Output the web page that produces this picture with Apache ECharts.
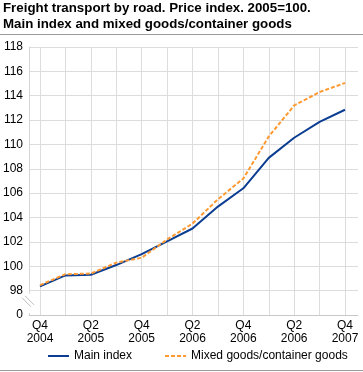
<!DOCTYPE html>
<html>
<head>
<meta charset="utf-8">
<script src="https://cdn.jsdelivr.net/npm/echarts@6/dist/echarts.min.js"></script>
<style>
html,body{margin:0;padding:0;background:#fff;}
#chart{width:363px;height:372px;}
</style>
</head>
<body>
<div id="chart"></div>
<script>
var titleText = 'Freight transport by road. Price index. 2005=100.\nMain index and mixed goods/container goods';
var categories = ['Q4\n2004','Q1\n2005','Q2\n2005','Q3\n2005','Q4\n2005','Q1\n2006','Q2\n2006','Q3\n2006','Q4\n2006','Q1\n2007','Q2\n2006','Q3\n2007','Q4\n2007'];
var mainIndex = [98.35, 99.25, 99.3, 100.1, 101.0, 102.05, 103.1, 104.9, 106.4, 108.9, 110.55, 111.85, 112.85];
var mixedGoods = [98.45, 99.35, 99.4, 100.3, 100.7, 102.2, 103.5, 105.5, 107.2, 110.65, 113.2, 114.3, 115.05];
var seriesNames = ['Main index', 'Mixed goods/container goods'];
var yMin = 96, yMax = 118, yStep = 2;

var FONT = '"Liberation Sans", Arial, sans-serif';
var chart = echarts.init(document.getElementById('chart'), null, {renderer: 'canvas'});
var option = {
  animation: false,
  textStyle: {fontFamily: FONT},
  title: {
    text: titleText,
    left: 3, top: 0, padding: 0,
    textStyle: {fontFamily: FONT, fontSize: 13.3, fontWeight: 'bold', color: '#000', lineHeight: 16.5}
  },
  grid: [
    {left: 27, right: 5, top: 47, bottom: 57, containLabel: false},
    {left: 40, right: 18, top: 47, bottom: 57, containLabel: false}
  ],
  legend: {
    left: 47, top: 350, padding: 0,
    itemWidth: 21, itemHeight: 12, itemGap: 32,
    itemStyle: {opacity: 0},
    textStyle: {fontFamily: FONT, fontSize: 12, color: '#000'},
    data: seriesNames
  },
  xAxis: [
    {
      gridIndex: 0, type: 'value', min: 0, max: 1,
      axisLine: {show: true, onZero: false, lineStyle: {color: '#c8c8c8', width: 1}},
      axisTick: {show: false}, axisLabel: {show: false}, splitLine: {show: false}
    },
    {
      gridIndex: 1, type: 'category',
      data: categories,
      boundaryGap: false,
      axisLine: {show: false},
      axisTick: {show: false},
      axisLabel: {
        interval: 1,
        fontFamily: FONT, fontSize: 12, color: '#000', lineHeight: 13, margin: 4
      },
      splitLine: {show: true, interval: 0, lineStyle: {color: '#dcdcdc', width: 1}}
    }
  ],
  yAxis: [
    {
      gridIndex: 0, type: 'value',
      min: yMin, max: yMax, interval: yStep,
      axisLine: {show: true, lineStyle: {color: '#d6d6d6', width: 1}},
      axisTick: {show: false},
      axisLabel: {
        fontFamily: FONT, fontSize: 12, color: '#000', margin: 6,
        formatter: function (v) { return v === yMin ? '0' : String(v); }
      },
      splitLine: {show: true, lineStyle: {color: '#dcdcdc', width: 1}}
    },
    {
      gridIndex: 1, type: 'value',
      min: yMin, max: yMax, interval: yStep,
      axisLine: {show: false}, axisTick: {show: false},
      axisLabel: {show: false}, splitLine: {show: false}
    }
  ],
  series: [
    {
      name: seriesNames[0], type: 'line', data: mainIndex,
      xAxisIndex: 1, yAxisIndex: 1,
      symbol: 'none', smooth: false,
      lineStyle: {color: '#0b3d91', width: 2},
      itemStyle: {color: '#0b3d91'},
      z: 3
    },
    {
      name: seriesNames[1], type: 'line', data: mixedGoods,
      xAxisIndex: 1, yAxisIndex: 1,
      symbol: 'none', smooth: false,
      lineStyle: {color: '#ff9a33', width: 2, type: [4, 2]},
      itemStyle: {color: '#ff9a33'},
      z: 4
    }
  ]
};
chart.setOption(option);

// decorations: separator rules and axis break marks
var p98 = chart.convertToPixel({yAxisIndex: 0}, 98);
var p96 = chart.convertToPixel({yAxisIndex: 0}, 96);
var x0 = 27;
var mid = (p98 + p96) / 2;
chart.setOption({
  graphic: [
    {type: 'line', shape: {x1: 0, y1: 34.5, x2: 363, y2: 34.5}, style: {stroke: '#9a9a9a', lineWidth: 1}},
    {type: 'line', shape: {x1: 0, y1: 370.5, x2: 363, y2: 370.5}, style: {stroke: '#9a9a9a', lineWidth: 1}},
    {type: 'rect', shape: {x: x0 - 3, y: p98 + 3, width: 6, height: (p96 - p98) - 5}, style: {fill: '#fff'}, z: 100},
    {type: 'line', shape: {x1: x0 - 5, y1: mid - 5, x2: x0 + 4, y2: mid + 4}, style: {stroke: '#bdbdbd', lineWidth: 1}, z: 101},
    {type: 'line', shape: {x1: x0 - 2, y1: mid - 7, x2: x0 + 7, y2: mid + 2}, style: {stroke: '#bdbdbd', lineWidth: 1}, z: 101}
  ]
});
</script>
</body>
</html>
